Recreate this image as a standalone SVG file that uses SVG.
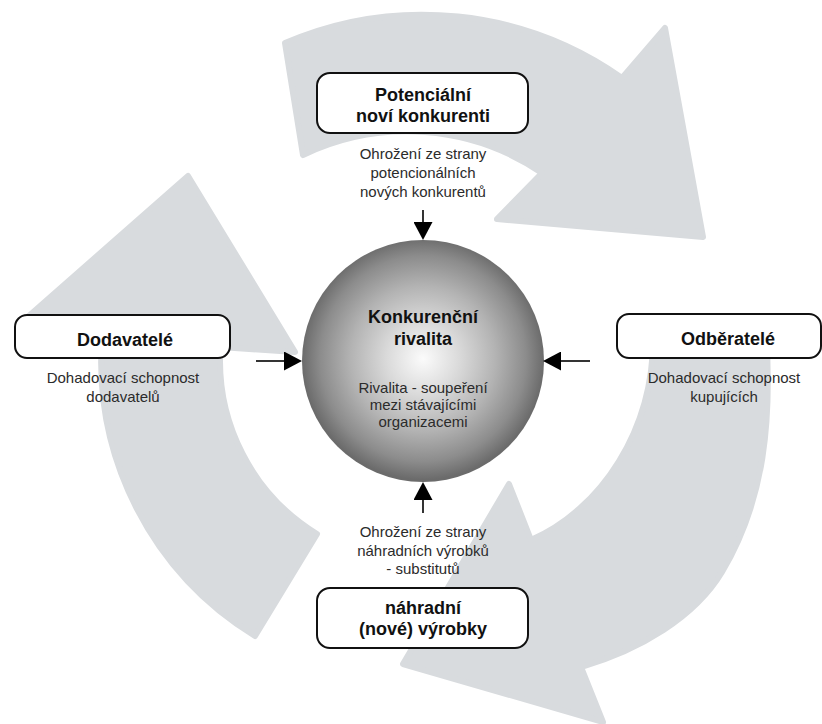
<svg xmlns="http://www.w3.org/2000/svg" width="822" height="724" viewBox="0 0 822 724">
<defs>
<radialGradient id="sph" cx="0.5" cy="0.49" r="0.5">
<stop offset="0" stop-color="#fbfbfb"/>
<stop offset="0.3" stop-color="#dadada"/>
<stop offset="0.6" stop-color="#b3b3b3"/>
<stop offset="0.85" stop-color="#8c8c8c"/>
<stop offset="1" stop-color="#6b6b6b"/>
</radialGradient>
<marker id="ah" markerWidth="18" markerHeight="19" refX="0" refY="9.5" orient="auto" markerUnits="userSpaceOnUse">
<path d="M0,0 L18,9.5 L0,19 Z" fill="#000"/>
</marker>
<style>
.cyc{fill:#d8dbde;stroke:#d8dbde;stroke-width:6;stroke-linejoin:round}
.box{fill:#fff;stroke:#111;stroke-width:2}
.lb{font-family:'Liberation Sans',Arial,sans-serif;font-weight:bold;font-size:18px;fill:#111;text-anchor:middle}
.ds{font-family:'Liberation Sans',Arial,sans-serif;font-size:15px;fill:#2b2b2b;text-anchor:middle}
.con{stroke:#000;stroke-width:1.6;fill:none;marker-end:url(#ah)}
</style>
</defs>
<rect width="822" height="724" fill="#fff"/>
<g id="cycle">
<path class="cyc" d="M285 43 A347 347 0 0 1 622 78 L665 28 L703 237 L497 219 L542 173 A240 240 0 0 0 303 155 Z"/>
<path class="cyc" d="M255 636 A322 322 0 0 1 102 338.5 L22 322 L188 176 L295 352 L220.5 347 A203 203 0 0 0 317 534 Z"/>
<path class="cyc" d="M653 330 L766 330 C772 420 765 500 722 572 C695 617 640 650 581 667 L603 722 L403 664 L509 484 L531 540 C600 510 656 430 653 330 Z"/>
</g>
<g id="rivalita">
<circle cx="423" cy="361" r="121" fill="url(#sph)"/>
<text class="lb" x="423" y="323">Konkurenční</text>
<text class="lb" x="423" y="345">rivalita</text>
<text class="ds" x="423" y="393">Rivalita - soupeření</text>
<text class="ds" x="423" y="410">mezi stávajícími</text>
<text class="ds" x="423" y="427">organizacemi</text>
</g>
<g id="noviKonkurenti">
<rect class="box" x="317" y="73" width="211" height="60" rx="13"/>
<text class="lb" x="423" y="101">Potenciální</text>
<text class="lb" x="423" y="122">noví konkurenti</text>
<text class="ds" x="423" y="159">Ohrožení ze strany</text>
<text class="ds" x="423" y="178">potencionálních</text>
<text class="ds" x="423" y="197">nových konkurentů</text>
</g>
<g id="dodavatele">
<rect class="box" x="15" y="315" width="215" height="43" rx="12"/>
<text class="lb" x="125" y="346">Dodavatelé</text>
<text class="ds" x="123" y="383">Dohadovací schopnost</text>
<text class="ds" x="123" y="402">dodavatelů</text>
</g>
<g id="odberatele">
<rect class="box" x="617" y="314" width="204" height="44" rx="12"/>
<text class="lb" x="728" y="345">Odběratelé</text>
<text class="ds" x="724" y="383">Dohadovací schopnost</text>
<text class="ds" x="724" y="402">kupujících</text>
</g>
<g id="nahradniVyrobky">
<rect class="box" x="317" y="588" width="211" height="60" rx="13"/>
<text class="lb" x="423" y="614">náhradní</text>
<text class="lb" x="423" y="635">(nové) výrobky</text>
<text class="ds" x="423" y="537">Ohrožení ze strany</text>
<text class="ds" x="423" y="556">náhradních výrobků</text>
<text class="ds" x="423" y="574">- substitutů</text>
</g>
<g id="connectors">
<line class="con" x1="423" y1="210" x2="423" y2="222"/>
<line class="con" x1="256" y1="361" x2="284" y2="361"/>
<line class="con" x1="590" y1="361" x2="561" y2="361"/>
<line class="con" x1="423" y1="513" x2="423" y2="500"/>
</g>
</svg>
